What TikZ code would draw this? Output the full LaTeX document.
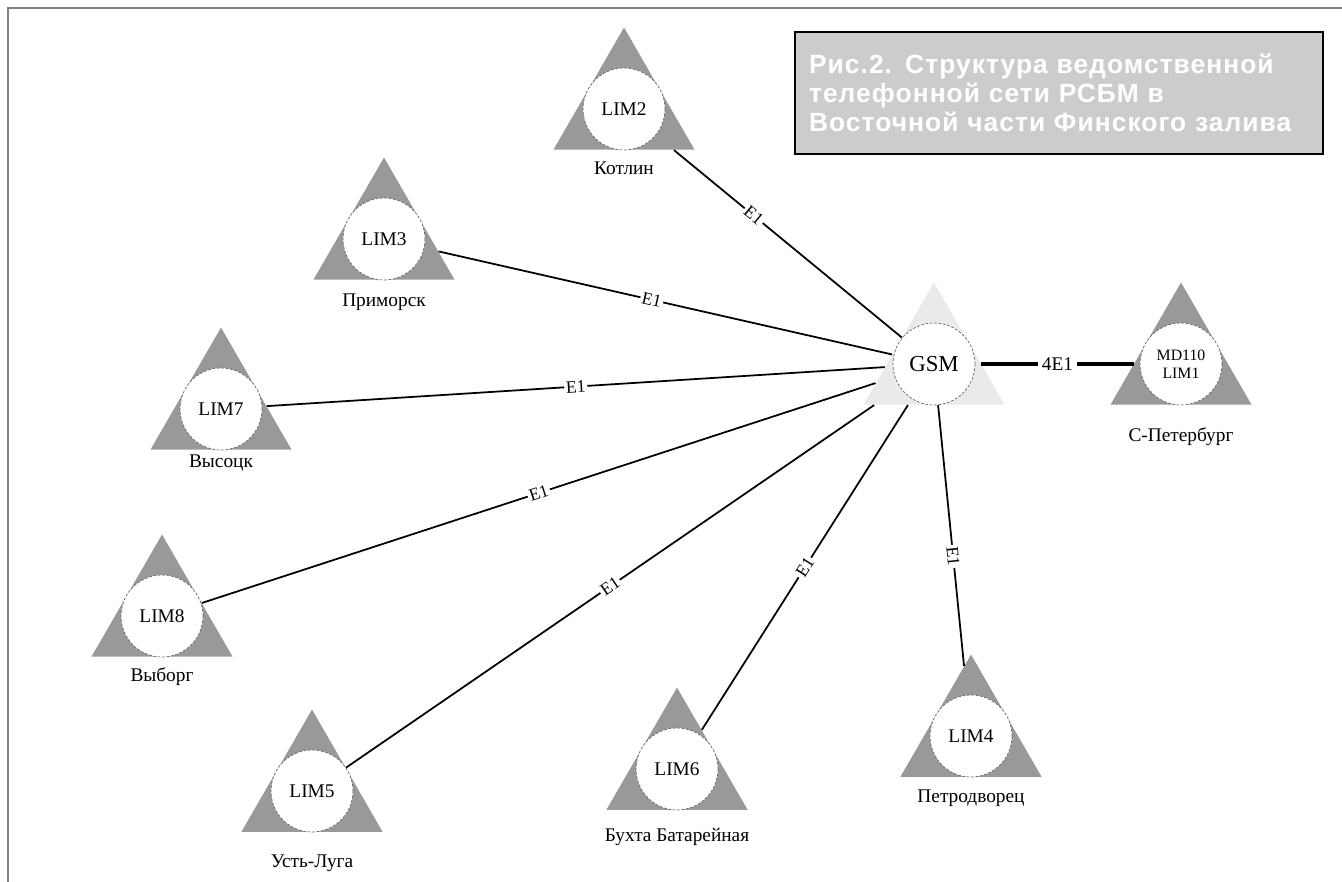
\documentclass[tikz,border=0pt]{standalone}
\usepackage{fontspec}
\setmainfont{Liberation Serif}
\newfontfamily\titlefont[LetterSpace = 4]{Liberation Sans}
\usetikzlibrary{shapes.geometric, positioning}
\definecolor{trigray}{RGB}{153,153,153}
\definecolor{hubgray}{RGB}{234,234,234}
\definecolor{boxgray}{RGB}{204,204,204}
\tikzset{
    station/.style = {regular polygon, regular polygon sides = 3, minimum size = 3.26cm, inner sep = 0pt, fill = trigray},
    disc/.style = {circle, minimum size = 1.64cm, inner sep = 0pt, fill = white, draw = gray!80!black, dash pattern = on 1.5pt off 1pt, line width = 0.4pt, font = \fontsize{11}{12}\selectfont},
    place/.style = {font = \fontsize{11}{12}\selectfont, inner sep = 1pt},
    link/.style = {line width = 1pt},
    tag/.style = {font = \fontsize{10}{11}\selectfont, fill = white, inner sep = 1pt, sloped}
}

\begin{document}
\begin{tikzpicture}[x = 0.02cm, y = -0.02cm]
        \useasboundingbox (0,0) rectangle (1342,882);
        \draw[line width = 1.7pt, gray] (8,882) -- (8,8) -- (1342,8);

        % central switch and St. Petersburg
        \node[station, fill = hubgray] (gsm) at (934,364) {};
        \node[disc, font = \fontsize{13}{14}\selectfont] (gsmdisc) at (gsm) {GSM};
        \node[station] (lim1) at (1181,364) {};
        \node[disc, font = \fontsize{9}{10}\selectfont, align = center] (disc1) at (lim1) {MD110\\LIM1};
        \node[place] (place1) at (1181,437) {С-Петербург};

        % remote sites
        \foreach \name/\town/\x/\y/\gap in {2/Котлин/624/109/59, 3/Приморск/384/239/63, 7/Высоцк/221/409/54,
                8/Выборг/162/616/61, 5/Усть-Луга/312/791/72, 6/Бухта Батарейная/677/769/68, 4/Петродворец/971/736/62} {
            \node[station] (lim\name) at (\x,\y) {};
            \node[disc] (disc\name) at (lim\name) {LIM\name};
            \node[place] (place\name) at (\x,\y+\gap) {\town};
        }

        \foreach \name/\p in {2/0.35, 3/0.47, 7/0.5, 8/0.5, 5/0.5, 6/0.5, 4/0.42}
            \draw[link] (lim\name) -- node[tag, pos = \p] {E1} (gsm);
        \draw[line width = 2.2pt] (gsm) -- node[fill = white, inner sep = 2pt, font = \fontsize{11}{12}\selectfont] (trunk) {4E1} (lim1);

        \node[anchor = north west, fill = boxgray, draw = black, line width = 1.2pt, text width = 10cm, inner xsep = 0.28cm,
            minimum height = 2.44cm, align = left, text = white, font = \titlefont\bfseries\fontsize{15}{16.6}\selectfont]
            (title) at (794,31) {Рис.2. Структура ведомственной\\телефонной сети РСБМ в\\Восточной части Финского залива};
\end{tikzpicture}
\end{document}
